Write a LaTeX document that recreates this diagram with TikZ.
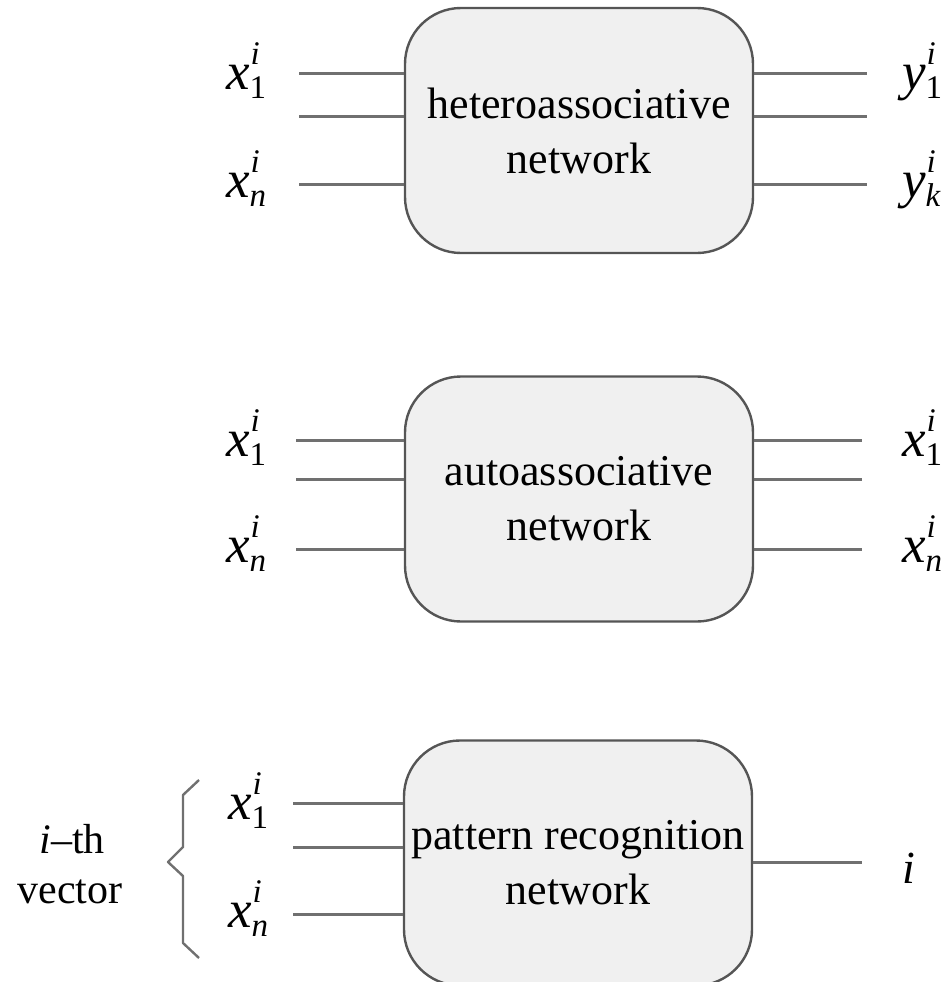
\documentclass[tikz,border=0pt]{standalone}
\usepackage{fontspec}
\setmainfont{Liberation Serif}
\definecolor{wire}{HTML}{707070}
\definecolor{rim}{HTML}{555555}
\definecolor{boxfill}{HTML}{F0F0F0}
% component label: main letter with superscript i and a subscript
\newcommand{\vlab}[2]{{\itshape #1}\kern1pt\rlap{\raisebox{25pt}{\fontsize{33}{33}\selectfont\itshape i}}\kern-1pt\raisebox{-9pt}{\fontsize{33}{33}\selectfont #2}}
\begin{document}
\begin{tikzpicture}[x=1pt,y=-1pt,
  netbox/.style={draw=rim,line width=2.4pt,fill=boxfill,rounded corners=56pt,
    minimum width=348pt,minimum height=245pt,inner sep=0pt,align=center,
    font=\fontsize{44}{55}\selectfont},
  wireline/.style={draw=wire,line width=3pt},
  lab/.style={inner sep=0pt,font=\fontsize{53}{53}\selectfont},
  side/.style={inner sep=0pt,align=center,font=\fontsize{42}{50}\selectfont}]
\useasboundingbox (0,0) rectangle (951,982);
\clip (0,0) rectangle (951,982);

% ---------- heteroassociative network ----------
\node[netbox] (B1) at (579,130.5) {heteroassociative\\network};
\coordinate (B1i1) at (299,73);
\coordinate (B1i2) at (299,116);
\coordinate (B1i3) at (299,184);
\coordinate (B1o1) at (867,73);
\coordinate (B1o2) at (867,116);
\coordinate (B1o3) at (867,184);
\foreach \k in {1,2,3}{
  \draw[wireline] (B1i\k) -- (B1i\k -| B1.west);
  \draw[wireline] (B1.east |- B1o\k) -- (B1o\k);
}
\node[lab,anchor=base west] (B1x1) at (226,89) {\vlab{x}{1}};
\node[lab,anchor=base west] (B1xn) at (226,197) {\vlab{x}{\itshape n}};
\node[lab,anchor=base west] (B1y1) at (902,89) {\vlab{y}{1}};
\node[lab,anchor=base west] (B1yk) at (902,197) {\vlab{y}{\itshape k}};

% ---------- autoassociative network ----------
\node[netbox] (B2) at (579,499) {autoassociative\\network};
\coordinate (B2i1) at (296,440);
\coordinate (B2i2) at (296,479);
\coordinate (B2i3) at (296,549);
\coordinate (B2o1) at (862,440);
\coordinate (B2o2) at (862,479);
\coordinate (B2o3) at (862,549);
\foreach \k in {1,2,3}{
  \draw[wireline] (B2i\k) -- (B2i\k -| B2.west);
  \draw[wireline] (B2.east |- B2o\k) -- (B2o\k);
}
\node[lab,anchor=base west] (B2x1) at (226,456) {\vlab{x}{1}};
\node[lab,anchor=base west] (B2xn) at (226,562) {\vlab{x}{\itshape n}};
\node[lab,anchor=base west] (B2y1) at (902,456) {\vlab{x}{1}};
\node[lab,anchor=base west] (B2yn) at (902,562) {\vlab{x}{\itshape n}};

% ---------- pattern recognition network ----------
\node[netbox] (B3) at (578,863) {pattern recognition\\network};
\coordinate (B3i1) at (293,803);
\coordinate (B3i2) at (293,847);
\coordinate (B3i3) at (293,914);
\coordinate (B3o) at (862,862);
\foreach \k in {1,2,3}{
  \draw[wireline] (B3i\k) -- (B3i\k -| B3.west);
}
\draw[wireline] (B3.east |- B3o) -- (B3o);
\node[lab,anchor=base west] (B3x1) at (228,819) {\vlab{x}{1}};
\node[lab,anchor=base west] (B3xn) at (228,927) {\vlab{x}{\itshape n}};
\node[inner sep=0pt,anchor=base west,font=\fontsize{46}{46}\selectfont\itshape] (B3out) at (902,883) {i};

% brace grouping the components of the input vector
\draw[draw=wire,line width=2.4pt,line join=round]
  (199,780) -- (183,795) -- (183,847) -- (168,862) -- (183,876) -- (183,943) -- (199,958);
\node[side,anchor=base] (vec1) at (72,853) {\textit{i}--th};
\node[side,anchor=base] (vec2) at (70,903) {vector};
\end{tikzpicture}
\end{document}
